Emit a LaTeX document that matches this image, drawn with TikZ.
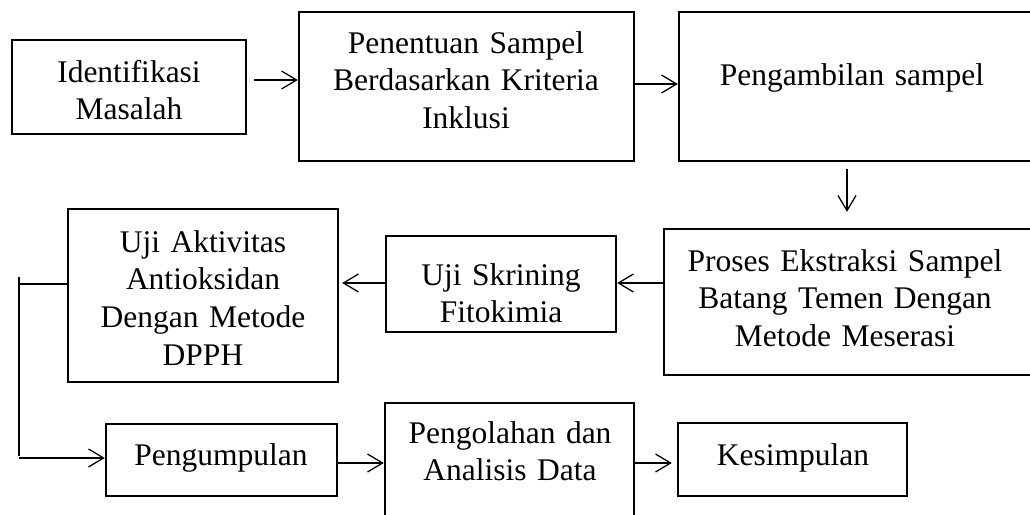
\documentclass[tikz,border=0pt]{standalone}
\usepackage{fontspec}
\setmainfont{Liberation Serif}
\usetikzlibrary{arrows.meta}
\tikzset{
  box/.style={draw=black, line width=2.4pt, rectangle, inner sep=0pt},
  txt/.style={anchor=base, inner sep=0pt, text width=380pt, align=center,
    font=\fontsize{31.5}{37.8}\selectfont},
  arr/.style={line width=1.3pt, -{Straight Barb[length=15pt,width=18pt,line width=1.3pt]}},
  ln/.style={line width=1.3pt}
}
\begin{document}
\begin{tikzpicture}[x=1pt,y=-1pt]
\useasboundingbox (0,0) rectangle (1030,514);
\clip (0,0) rectangle (1030,514);
% boxes
\node[box, minimum width=234pt, minimum height=94pt] (b1) at (129,87) {};
\node[box, minimum width=335pt, minimum height=149pt] (b2) at (466.5,86.5) {};
\node[box, minimum width=361pt, minimum height=149pt] (b3) at (859.5,86.5) {};
\node[box, minimum width=376pt, minimum height=146pt] (b4) at (852,302) {};
\node[box, minimum width=230pt, minimum height=96pt] (b5) at (501,284) {};
\node[box, minimum width=270pt, minimum height=173pt] (b6) at (203,295.5) {};
\node[box, minimum width=231pt, minimum height=72pt] (b7) at (221.5,460) {};
\node[box, minimum width=249pt, minimum height=127pt] (b8) at (509.5,466.5) {};
\node[box, minimum width=229pt, minimum height=73pt] (b9) at (792.5,459.5) {};
% texts
\node[txt] (t1) at (129,82) {Identifikasi\\Masalah};
\node[txt] (t2) at (466,53) {Penentuan Sampel\\Berdasarkan Kriteria\\Inklusi};
\node[txt] (t3) at (852,85) {Pengambilan sampel};
\node[txt] (t4) at (845,271) {Proses Ekstraksi Sampel\\Batang Temen Dengan\\Metode Meserasi};
\node[txt] (t5) at (501,285) {Uji Skrining\\Fitokimia};
\node[txt] (t6) at (203,252) {Uji Aktivitas\\Antioksidan\\Dengan Metode\\DPPH};
\node[txt] (t7) at (221,465) {Pengumpulan};
\node[txt] (t8) at (510,443) {Pengolahan dan\\Analisis Data};
\node[txt] (t9) at (793,465) {Kesimpulan};
% connectors
\draw[arr, shorten <=7pt] ([yshift=7pt]b1.east) -- ([yshift=7pt]b1.east -| b2.west);
\draw[arr] ([yshift=2.5pt]b2.east) -- ([yshift=2.5pt]b2.east -| b3.west);
\draw[arr, shorten <=7pt, shorten >=16pt] ([xshift=-12.5pt]b3.south) -- ([xshift=-12.5pt]b3.south |- b4.north);
\draw[arr] ([yshift=19pt]b4.west) -- ([yshift=19pt]b4.west -| b5.east);
\draw[arr, shorten >=3pt] ([yshift=1pt]b5.west) -- ([yshift=1pt]b5.west -| b6.east);
\coordinate (ct) at (19,277);
\coordinate (cm) at (19,284);
\coordinate (cb) at (19,458);
\draw[ln] (ct) -- (19,456);
\draw[ln] (b6.west |- cm) -- (cm);
\draw[arr] (cb) -- (cb -| b7.west);
\draw[arr] ([yshift=-3pt]b7.east) -- ([yshift=-3pt]b7.east -| b8.west);
\draw[arr, shorten >=5pt] ([yshift=3.5pt]b8.east) -- ([yshift=3.5pt]b8.east -| b9.west);
\end{tikzpicture}
\end{document}
